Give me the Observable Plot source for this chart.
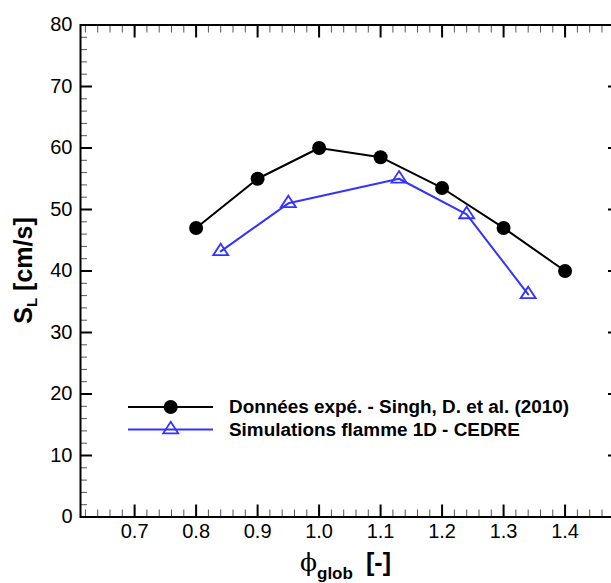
<!DOCTYPE html>
<html><head><meta charset="utf-8">
<script src="https://cdn.jsdelivr.net/npm/d3@7"></script>
<script src="https://cdn.jsdelivr.net/npm/@observablehq/plot@0.6"></script>
<style>html,body{margin:0;padding:0;background:#fff;overflow:hidden}</style>
</head><body><div id="chart"></div>
<script>
// Experimental data (black circles)
const expPhi = [0.8, 0.9, 1.0, 1.1, 1.2, 1.3, 1.4];
const expSL  = [47, 55, 60, 58.5, 53.5, 47, 40];
// 1D flame simulations (blue triangles)
const simPhi = [0.84, 0.95, 1.13, 1.24, 1.34];
const simSL  = [43.2, 51, 55, 49.2, 36.2];
// Axis ticks
const xMajor = [0.7, 0.8, 0.9, 1.0, 1.1, 1.2, 1.3, 1.4];
const xMinor = d3.range(31, 75).map(i => i / 50);
const yMajor = [0, 10, 20, 30, 40, 50, 60, 70, 80];
const yMinor = d3.range(0, 81, 2);
const legendLabels = ["Données expé. - Singh, D. et al. (2010)", "Simulations flamme 1D - CEDRE"];

const BLUE = "#3333ff";
const FONT = "'Liberation Sans', Arial, Helvetica, sans-serif";

const exp = expPhi.map((x, i) => ({x, y: expSL[i]}));
const sim = simPhi.map((x, i) => ({x, y: simSL[i]}));

const triangle = {
  draw(ctx, size) {
    const s = Math.sqrt(size / Math.PI) / 6;
    const w = 7.5 * s, h = 11.5 * s;
    ctx.moveTo(0, -2 * h / 3);
    ctx.lineTo(w, h / 3);
    ctx.lineTo(-w, h / 3);
    ctx.closePath();
  }
};

const minorX = {ticks: xMinor, tickSize: -7, stroke: "#555", strokeWidth: 1, fill: "none", label: null};
const majorX = {ticks: xMajor, tickSize: -12, stroke: "#000", strokeWidth: 2, fill: "none", label: null};
const minorY = {ticks: yMinor, tickSize: -7, stroke: "#555", strokeWidth: 1, fill: "none", label: null};
const majorY = {ticks: yMajor, tickSize: -12, stroke: "#000", strokeWidth: 2, fill: "none", label: null};

const plot = Plot.plot({
  width: 611, height: 583,
  marginLeft: 80, marginRight: -8, marginTop: 24.5, marginBottom: 66.5,
  style: {fontFamily: FONT, fontSize: "20px", background: "#fff", color: "#000"},
  x: {domain: [0.612, 1.4885]},
  y: {domain: [0, 80]},
  marks: [
    Plot.axisX({...minorX, anchor: "bottom"}),
    Plot.axisX({...minorX, anchor: "top"}),
    Plot.axisX({...majorX, anchor: "bottom"}),
    Plot.axisX({...majorX, anchor: "top"}),
    Plot.axisY({...minorY, anchor: "left"}),
    Plot.axisY({...minorY, anchor: "right"}),
    Plot.axisY({...majorY, anchor: "left"}),
    Plot.axisY({...majorY, anchor: "right"}),
    Plot.axisX({anchor: "bottom", ticks: xMajor, tickSize: 0, tickPadding: 7, fontSize: 20, fill: "#000", label: null}),
    Plot.axisY({anchor: "left", ticks: yMajor, tickSize: 0, tickPadding: 8, fontSize: 20, fill: "#000", label: null}),
    Plot.frame({stroke: "#000", strokeWidth: 2}),
    Plot.line(sim, {x: "x", y: "y", stroke: BLUE, strokeWidth: 2}),
    Plot.dot(sim, {x: "x", y: "y", symbol: triangle, r: 6, stroke: BLUE, strokeWidth: 1.8, fill: "none"}),
    Plot.line(exp, {x: "x", y: "y", stroke: "#000", strokeWidth: 2}),
    Plot.dot(exp, {x: "x", y: "y", r: 7, fill: "#000", stroke: "none"})
  ]
});

const svg = d3.select(plot);

// Y axis title
const yl = svg.append("text")
  .attr("transform", "translate(31.5,270.5) rotate(-90)")
  .attr("text-anchor", "middle")
  .attr("font-family", FONT).attr("font-weight", "bold").attr("font-size", 25).attr("fill", "#000");
yl.append("tspan").text("S");
yl.append("tspan").attr("font-size", 15).attr("dy", 5).text("L");
yl.append("tspan").attr("dy", -5).text(" [cm/s]");

// X axis title
const xl = svg.append("text").attr("y", 571).attr("fill", "#000").attr("font-family", FONT).attr("text-anchor", "start");
xl.append("tspan").attr("x", 300).attr("font-family", "'DejaVu Serif', serif").attr("font-size", 25).text("ϕ");
xl.append("tspan").attr("x", 317).attr("dy", 8).attr("font-weight", "bold").attr("font-size", 17).text("glob");
xl.append("tspan").attr("x", 366).attr("dy", -8).attr("font-weight", "bold").attr("font-size", 25).text("[-]");

// Legend
const lg = svg.append("g");
const rows = [
  {y: 407, color: "#000", kind: "circle"},
  {y: 429.5, color: BLUE, kind: "triangle"}
];
rows.forEach((r, i) => {
  lg.append("line").attr("x1", 128).attr("x2", 213).attr("y1", r.y).attr("y2", r.y)
    .attr("stroke", r.color).attr("stroke-width", 2);
  if (r.kind === "circle") {
    lg.append("circle").attr("cx", 170.7).attr("cy", r.y).attr("r", 7).attr("fill", "#000");
  } else {
    lg.append("path").attr("transform", `translate(170.7,${r.y})`)
      .attr("d", d3.symbol(triangle, Math.PI * 36)())
      .attr("fill", "none").attr("stroke", BLUE).attr("stroke-width", 1.8);
  }
  lg.append("text").attr("x", 229).attr("y", r.y + 6).attr("text-anchor", "start")
    .attr("font-family", FONT).attr("font-weight", "bold").attr("font-size", 18.9).attr("fill", "#000")
    .text(legendLabels[i]);
});

document.getElementById("chart").appendChild(plot);
</script>
</body></html>
